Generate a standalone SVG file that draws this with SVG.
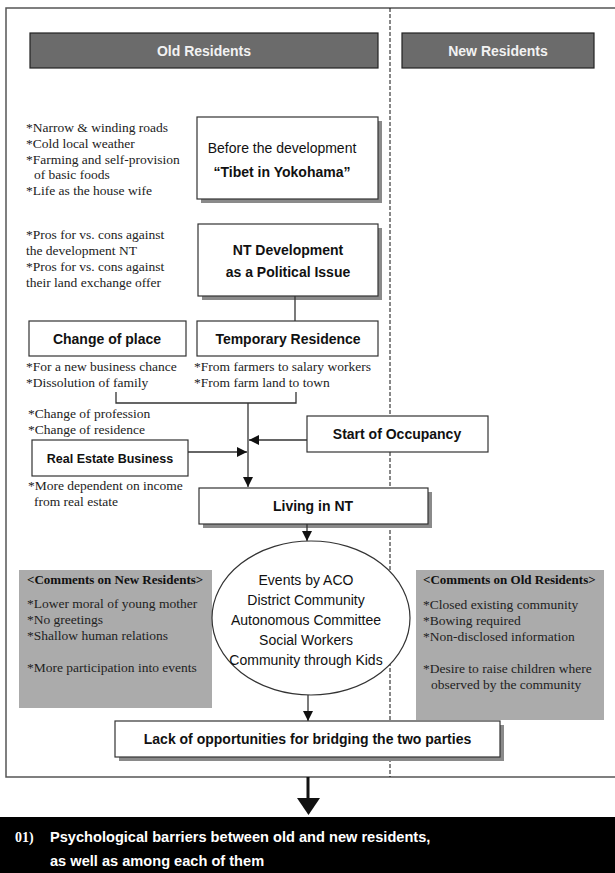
<svg xmlns="http://www.w3.org/2000/svg" width="615" height="873" viewBox="0 0 615 873">
<defs>
<style>
.box{fill:#fff;stroke:#333;stroke-width:1.2}
.shadow{fill:#8a8a8a}
.hdr{fill:#6b6b6b;stroke:#222;stroke-width:1.2}
.hdrt{font-family:"Liberation Sans",Arial,sans-serif;font-weight:bold;font-size:14px;fill:#f2f2f2;text-anchor:middle}
.bt{font-family:"Liberation Sans",Arial,sans-serif;font-weight:bold;font-size:14px;fill:#111;text-anchor:middle}
.rt{font-family:"Liberation Sans",Arial,sans-serif;font-size:14px;fill:#111;text-anchor:middle}
.note{font-family:"Liberation Serif","Times New Roman",serif;font-size:13.5px;fill:#222}
.noteh{font-family:"Liberation Serif","Times New Roman",serif;font-weight:bold;font-size:13px;fill:#111}
.gray{fill:#ababab}
.ln{fill:none;stroke:#333;stroke-width:1.3}
.dash{stroke:#111;stroke-width:1;stroke-dasharray:4,2}
.band{font-family:"Liberation Sans",Arial,sans-serif;font-weight:bold;font-size:14.6px;fill:#fff}
</style>
<marker id="ah" markerUnits="userSpaceOnUse" markerWidth="10" markerHeight="10" refX="10" refY="5" orient="auto">
<path d="M0,0 L10,5 L0,10 z" fill="#111"/>
</marker>
</defs>
<rect width="615" height="873" fill="#fff"/>
<rect x="6" y="8" width="640" height="769" fill="none" stroke="#555" stroke-width="1.5"/>
<line class="dash" x1="390" y1="8" x2="390" y2="777"/>

<g id="old-residents">
<rect class="hdr" x="30" y="33" width="348" height="35"/>
<text class="hdrt" x="204" y="56">Old Residents</text>
</g>
<g id="new-residents">
<rect class="hdr" x="402" y="33" width="192" height="35"/>
<text class="hdrt" x="498" y="56">New Residents</text>
</g>

<g id="notes-before">
<text class="note" x="26" y="132">*Narrow &amp; winding roads</text>
<text class="note" x="26" y="148">*Cold local weather</text>
<text class="note" x="26" y="164">*Farming and self-provision</text>
<text class="note" x="34" y="179">of basic foods</text>
<text class="note" x="26" y="195">*Life as the house wife</text>
</g>
<g id="before">
<rect class="shadow" x="201" y="121" width="181" height="82"/>
<rect class="box" x="197" y="117" width="181" height="82"/>
<text class="rt" x="282" y="153">Before the development</text>
<text class="bt" x="282" y="177">“Tibet in Yokohama”</text>
</g>

<g id="notes-political">
<text class="note" x="26" y="239">*Pros for vs. cons against</text>
<text class="note" x="26" y="255">the development NT</text>
<text class="note" x="26" y="271">*Pros for vs. cons against</text>
<text class="note" x="26" y="287">their land exchange offer</text>
</g>
<g id="nt-development">
<rect class="shadow" x="202" y="228" width="180" height="72"/>
<rect class="box" x="198" y="224" width="180" height="72"/>
<text class="bt" x="288" y="255">NT Development</text>
<text class="bt" x="288" y="277">as a Political Issue</text>
</g>

<g id="change-of-place">
<rect class="box" x="29" y="321" width="157" height="35"/>
<text class="bt" x="107" y="344">Change of place</text>
<text class="note" x="26" y="371">*For a new business chance</text>
<text class="note" x="26" y="387">*Dissolution of family</text>
</g>
<g id="temporary-residence">
<rect class="box" x="197" y="321" width="181" height="35"/>
<text class="bt" x="288" y="344">Temporary Residence</text>
<text class="note" x="194" y="371">*From farmers to salary workers</text>
<text class="note" x="194" y="387">*From farm land to town</text>
</g>

<g id="notes-change">
<text class="note" x="28" y="418">*Change of profession</text>
<text class="note" x="28" y="434">*Change of residence</text>
</g>

<g id="start-of-occupancy">
<rect class="box" x="307" y="416" width="181" height="36"/>
<text class="bt" x="397" y="439">Start of Occupancy</text>
</g>

<g id="real-estate">
<rect class="box" x="32" y="440" width="156" height="36"/>
<text class="bt" x="110" y="463" style="font-size:12.5px">Real Estate Business</text>
<text class="note" x="28" y="490">*More dependent on income</text>
<text class="note" x="34" y="506">from real estate</text>
</g>

<g id="living-in-nt">
<rect class="shadow" x="203" y="492" width="229" height="36"/>
<rect class="box" x="199" y="488" width="229" height="36"/>
<text class="bt" x="313" y="511">Living in NT</text>
</g>

<g id="comments-new">
<rect class="gray" x="19" y="570" width="193" height="138"/>
<text class="noteh" x="27" y="584">&lt;Comments on New Residents&gt;</text>
<text class="note" x="27" y="608">*Lower moral of young mother</text>
<text class="note" x="27" y="624">*No greetings</text>
<text class="note" x="27" y="640">*Shallow human relations</text>
<text class="note" x="27" y="672">*More participation into events</text>
</g>

<g id="events">
<ellipse cx="311" cy="618" rx="99" ry="77" fill="#fff" stroke="#333" stroke-width="1.2"/>
<text class="rt" x="306" y="585">Events by ACO</text>
<text class="rt" x="306" y="605">District Community</text>
<text class="rt" x="306" y="625">Autonomous Committee</text>
<text class="rt" x="306" y="645">Social Workers</text>
<text class="rt" x="306" y="665">Community through Kids</text>
</g>

<g id="comments-old">
<rect class="gray" x="416" y="570" width="188" height="150"/>
<text class="noteh" x="423" y="584">&lt;Comments on Old Residents&gt;</text>
<text class="note" x="423" y="609">*Closed existing community</text>
<text class="note" x="423" y="625">*Bowing required</text>
<text class="note" x="423" y="641">*Non-disclosed information</text>
<text class="note" x="423" y="673">*Desire to raise children where</text>
<text class="note" x="431" y="689">observed by the community</text>
</g>

<g id="lack">
<rect class="shadow" x="119" y="725" width="385" height="36"/>
<rect class="box" x="115" y="721" width="385" height="36"/>
<text class="bt" x="307.5" y="744">Lack of opportunities for bridging the two parties</text>
</g>

<g id="connectors">
<line class="ln" x1="295" y1="296" x2="295" y2="321"/>
<path class="ln" d="M116,392 V403 H296 V392"/>
<line class="ln" x1="248" y1="403" x2="248" y2="487" marker-end="url(#ah)"/>
<line class="ln" x1="307" y1="440" x2="249" y2="440" marker-end="url(#ah)"/>
<line class="ln" x1="188" y1="452" x2="247" y2="452" marker-end="url(#ah)"/>
<line class="ln" x1="307" y1="524" x2="307" y2="541" marker-end="url(#ah)"/>
<line class="ln" x1="308" y1="695" x2="308" y2="721" marker-end="url(#ah)"/>
<line x1="308" y1="777" x2="308" y2="800" stroke="#111" stroke-width="3"/>
<path d="M297,798 L320,798 L308.5,815 z" fill="#111"/>
</g>

<g id="result">
<rect x="0" y="817" width="615" height="56" fill="#000"/>
<text x="15" y="842" style="font-family:'Liberation Serif','Times New Roman',serif;font-weight:bold;font-size:14px;fill:#fff">01)</text>
<text class="band" x="50" y="842">Psychological barriers between old and new residents,</text>
<text class="band" x="50" y="866">as well as among each of them</text>
</g>
</svg>
